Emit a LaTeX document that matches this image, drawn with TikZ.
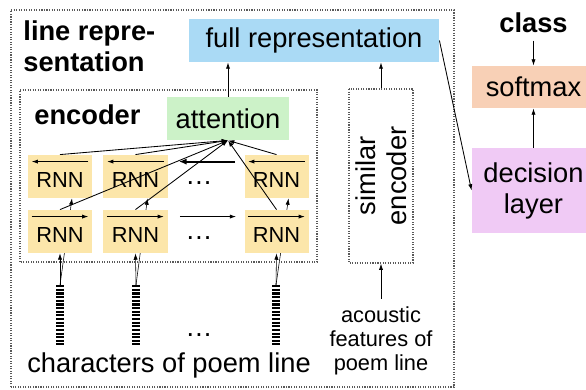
\documentclass[tikz,border=0pt]{standalone}
\usepackage{fontspec}
\setmainfont{Liberation Sans}
\usetikzlibrary{arrows.meta,backgrounds}

\definecolor{repblue}{RGB}{170,218,245}
\definecolor{attgreen}{RGB}{204,242,200}
\definecolor{rnnyellow}{RGB}{252,230,170}
\definecolor{softpeach}{RGB}{248,208,182}
\definecolor{declilac}{RGB}{240,202,245}

\newcommand{\labelfont}{\fontsize{19.4}{22}\selectfont}
\newcommand{\rnnfont}{\fontsize{15.5}{17}\selectfont}

\tikzset{
  block/.style={inner sep=0pt, font=\labelfont},
  rnn/.style={fill=rnnyellow, minimum width=1.6cm, minimum height=1.075cm,
    inner sep=0pt, font=\rnnfont, text height=16pt, text depth=0pt},
  group/.style={draw=black!65, densely dotted, line width=0.8pt},
  charbar/.style={line width=5.7pt, dash pattern=on 1.6pt off 1pt},
}

\begin{document}
\begin{tikzpicture}[>={Latex[length=4.5pt,width=3pt]}, line width=0.6pt]
\useasboundingbox (0,0) rectangle (14.65,9.75);

% frames
\draw[group] (0.275,0.075) rectangle (11.35,9.5);
\draw[group] (0.5,3.2) rectangle (7.925,7.5);

\node[block, anchor=north west, align=left, font=\labelfont\bfseries] (linerep) at (0.575,9.2375) {line repre-\\sentation};
\node[block, fill=repblue, minimum width=6.25cm, minimum height=1.075cm] (fullrep) at (7.85,8.7375) {full representation};
\node[block, anchor=base west, font=\labelfont\bfseries] (enclabel) at (0.85,6.625) {encoder};
\node[block, fill=attgreen, minimum width=3.05cm, minimum height=1.075cm] (att) at (5.7,6.7875) {attention};

% backward rnn
\node[rnn] (t1) at (1.5,5.3375) {RNN};
\node[rnn] (t2) at (3.3875,5.3375) {RNN};
\node[rnn] (t3) at (6.9125,5.3375) {RNN};
\node[block] (tdots) at (4.975,5.175) {\ldots};
% forward rnn
\node[rnn] (b1) at (1.5,3.9625) {RNN};
\node[rnn] (b2) at (3.3875,3.9625) {RNN};
\node[rnn] (b3) at (6.9125,3.9625) {RNN};
\node[block] (bdots) at (4.975,3.8) {\ldots};

\foreach \n in {t1,t2,t3}
  \draw[->, line width=0.7pt] ([shift={(-0.1,-0.175)}]\n.north east) -- ([shift={(0.1,-0.175)}]\n.north west);
\foreach \n in {b1,b2,b3}
  \draw[->, line width=0.7pt] ([shift={(0.1,-0.175)}]\n.north west) -- ([shift={(-0.1,-0.175)}]\n.north east);
\draw[-{Latex[length=5.5pt,width=4.5pt]}, line width=1.4pt] ([shift={(-0.225,-0.175)}]t3.north west) -- ([shift={(0.275,-0.175)}]t2.north east);
\draw[->] ([shift={(0.3,-0.175)}]b2.north east) -- ([shift={(-0.2,-0.175)}]b3.north west);

\foreach \n in {t1,t2,t3,b1,b2,b3}
  \draw[->] (\n.north) -- (att.south);

% characters
\coordinate (in1) at (1.5,2.625);
\coordinate (in2) at (3.4,2.625);
\coordinate (in3) at (6.9,2.625);
\foreach \i in {1,2,3}
  \draw[charbar] (in\i) -- ++(0,-1.5);
\node[block] (idots) at (4.975,1.375) {\ldots};
\begin{scope}[on background layer]
\foreach \i in {1,2,3} {
  \draw[->] (in\i) -- (b\i.south);
  \draw[->] (in\i) -- ([xshift=0.3cm]t\i.south);
}
\end{scope}
\node[block, anchor=base] (chars) at (4.225,0.425) {characters of poem line};

% acoustic side
\node[group, rotate=90, minimum width=4.35cm, minimum height=1.6cm, inner sep=0pt,
  align=center, font=\labelfont] (simenc) at (9.525,5.35) {similar\\encoder};
\node[anchor=north, align=center, font=\rnnfont, inner sep=5.5pt] (acoustic) at (9.525,2.275) {acoustic\\features of\\poem line};
\draw[->] (acoustic.north) -- (simenc.west);
\draw[->] (simenc.east) -- (simenc.east |- fullrep.south);
\draw[->] (att.north) -- (att.north |- fullrep.south);

% classifier
\node[block, anchor=base, font=\labelfont\bfseries] (class) at (13.3375,8.925) {class};
\node[block, fill=softpeach, minimum width=3.075cm, minimum height=1.05cm] (softmax) at (13.3375,7.575) {softmax};
\node[block, fill=declilac, minimum width=3.075cm, minimum height=2.125cm, align=center] (decision) at (13.3375,4.9875) {decision\\layer};
\draw[->] ([yshift=-0.175cm]class.south) -- (softmax.north);
\draw[->] (decision.north) -- (softmax.south);
\draw[->] (fullrep.east) -- (decision.west);
\end{tikzpicture}
\end{document}
